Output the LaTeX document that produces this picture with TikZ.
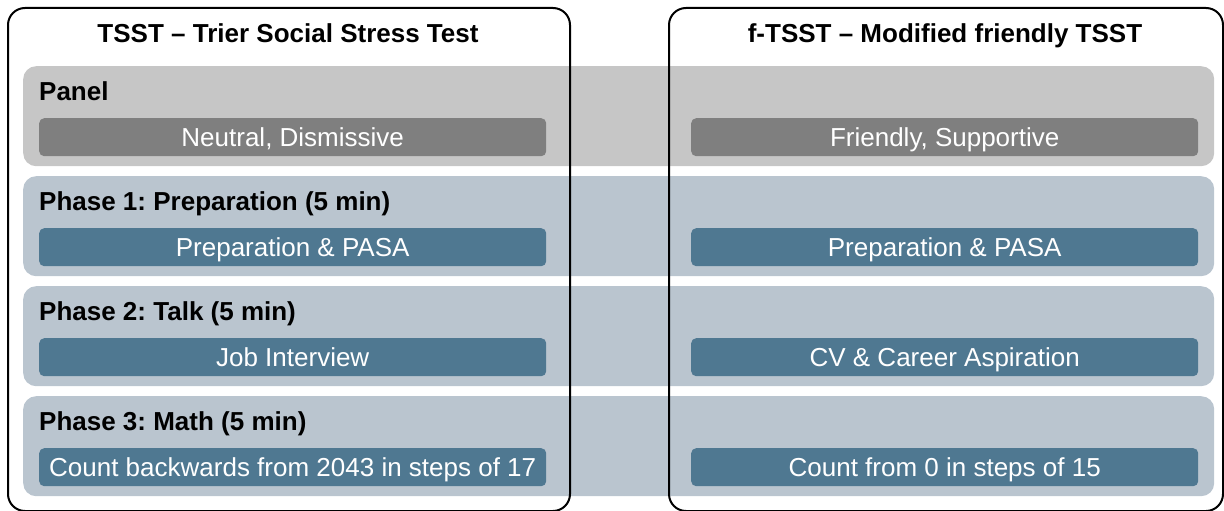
\documentclass[tikz,border=0pt]{standalone}
\usepackage{fontspec}
\setmainfont{Liberation Sans}
\frenchspacing
\definecolor{bandgray}{HTML}{C6C6C6}
\definecolor{boxgray}{HTML}{7F7F7F}
\definecolor{bandblue}{HTML}{BAC5CF}
\definecolor{boxblue}{HTML}{4F7891}
\tikzset{
  band/.style={fill=#1, draw=none, rounded corners=13pt, inner sep=0pt,
    minimum width=1191pt, minimum height=100pt, anchor=north west},
  innerbox/.style={fill=#1, draw=none, rounded corners=5pt, inner sep=0pt,
    minimum width=507pt, minimum height=38pt, anchor=north west,
    text=white, font=\fontsize{26}{30}\selectfont, text height=18.6pt, text depth=0pt},
  bandlabel/.style={anchor=base west, inner sep=0pt, font=\fontsize{26}{30}\selectfont\bfseries},
  frame/.style={draw=black, line width=2pt, rounded corners=17pt, inner sep=0pt,
    minimum width=#1, minimum height=503pt, anchor=north west},
  title/.style={anchor=base, inner sep=0pt, font=\fontsize{26}{30}\selectfont\bfseries},
}
\begin{document}
\begin{tikzpicture}[x=1pt, y=-1pt]
\useasboundingbox (0,0) rectangle (1224,511);
% bands
\node[band=bandgray] (b0) at (23,66) {};
\node[band=bandblue] (b1) at (23,176) {};
\node[band=bandblue] (b2) at (23,286) {};
\node[band=bandblue] (b3) at (23,396) {};
% labels
\node[bandlabel] (l0) at (39,100) {Panel};
\node[bandlabel] (l1) at (39,210) {Phase 1: Preparation (5 min)};
\node[bandlabel] (l2) at (39,320) {Phase 2: Talk (5 min)};
\node[bandlabel] (l3) at (39,430) {Phase 3: Math (5 min)};
% inner boxes left
\node[innerbox=boxgray] (a0) at (39,118) {Neutral, Dismissive};
\node[innerbox=boxblue] (a1) at (39,228) {Preparation \& PASA};
\node[innerbox=boxblue] (a2) at (39,338) {Job Interview};
\node[innerbox=boxblue] (a3) at (39,448) {Count backwards from 2043 in steps of 17};
% inner boxes right
\node[innerbox=boxgray] (c0) at (691,118) {Friendly, Supportive};
\node[innerbox=boxblue] (c1) at (691,228) {Preparation \& PASA};
\node[innerbox=boxblue] (c2) at (691,338) {CV \& Career Aspiration};
\node[innerbox=boxblue] (c3) at (691,448) {Count from 0 in steps of 15};
% frames
\node[frame=562pt] (tsst) at (7,7) {};
\node[frame=554pt] (ftsst) at (668,7) {};
% titles
\node[title] (t1) at (288,43) {TSST -- Trier Social Stress Test};
\node[title] (t2) at (945,43) {f-TSST -- Modified friendly TSST};
\end{tikzpicture}
\end{document}
